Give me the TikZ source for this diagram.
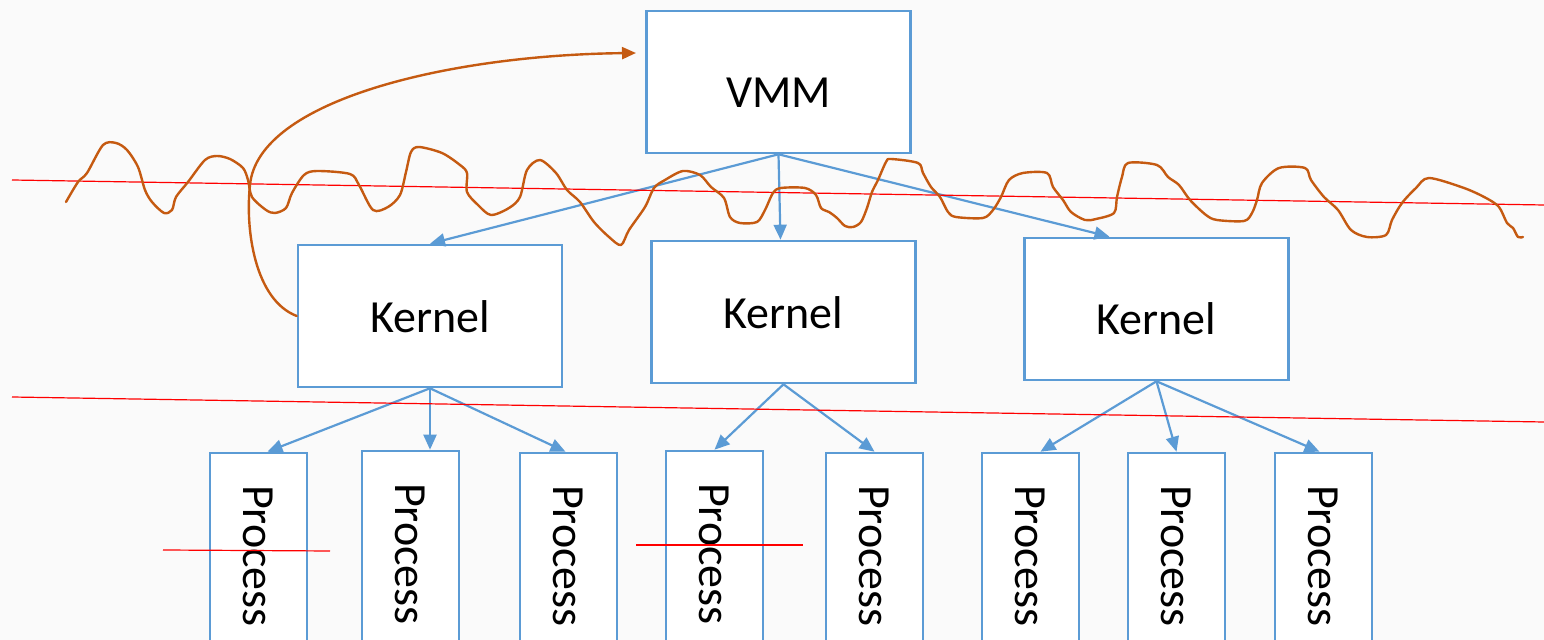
\documentclass[tikz,border=0pt]{standalone}
\usepackage{fontspec}
\setmainfont{Carlito}
\usetikzlibrary{arrows.meta}
\definecolor{boxblue}{HTML}{5B9BD5}
\definecolor{penorange}{HTML}{C55A11}
\definecolor{paper}{HTML}{FAFAFA}
\tikzset{%
	kbox/.style = { draw=boxblue, fill=white, line width=1.3pt, minimum width=132pt, minimum height=71pt, inner sep=0pt, text height=17pt, font=\fontsize{23}{28}\selectfont },
	pbox/.style = { kbox, text height=15pt, rotate=-90, minimum width=103pt, minimum height=48.5pt },
	link/.style = { boxblue, line width=1.1pt, -{Triangle[length=7.5pt,width=6.5pt]} },
	cut/.style = { red, line width=0.6pt },
	pen/.style = { penorange, line width=1.2pt, line join=round, line cap=round }
}

\begin{document}
\begin{tikzpicture}[x=0.5pt, y=-0.5pt]
	% page
	\clip (0,0) rectangle (1544,640);
	\fill[paper] (0,0) rectangle (1544,640);
	% VMM and kernels
	\node[kbox, text height=26pt] (vmm) at (778.5,82) {VMM};
	\node[kbox] (k1) at (430,316) {Kernel};
	\node[kbox] (k2) at (783.5,312) {Kernel};
	\node[kbox, text height=26pt] (k3) at (1156.5,309) {Kernel};
	% processes (rotated, so west is the top side)
	\node[pbox] (p1) at (258.5,556) {Process};
	\node[pbox] (p2) at (410.5,554) {Process};
	\node[pbox] (p3) at (568.5,556) {Process};
	\node[pbox] (p4) at (714.5,554) {Process};
	\node[pbox] (p5) at (874.5,556) {Process};
	\node[pbox] (p6) at (1030.5,556) {Process};
	\node[pbox] (p7) at (1176.5,556) {Process};
	\node[pbox] (p8) at (1323.5,556) {Process};
	% VMM -> kernels
	\draw[link] (vmm.south) -- (k1.north);
	\draw[link] (vmm.south) -- ([xshift=-1.5pt]k2.north);
	\draw[link] (vmm.south) -- ([xshift=-23.5pt]k3.north);
	% kernels -> processes
	\draw[link] (k1.south) -- ([xshift=4.5pt]p1.west);
	\draw[link] (k1.south) -- (k1.south |- p2.west);
	\draw[link] (k1.south) -- ([xshift=-1.5pt]p3.west);
	\draw[link] (k2.south) -- (p4.west);
	\draw[link] (k2.south) -- (p5.west);
	\draw[link] (k3.south) -- ([xshift=5pt]p6.west);
	\draw[link] (k3.south) -- (p7.west);
	\draw[link] (k3.south) -- ([xshift=-2pt]p8.west);
	% red cuts
	\draw[cut] (12,180) -- (1544,205);
	\draw[cut] (12,397) -- (1544,422);
	\draw[cut] (163,550) -- (330,551);
	\draw[cut] (636,545) -- (803,545);
	% hand drawn trap
	\coordinate (hook) at (636,53);
	\draw[pen, -{Triangle[length=7pt,width=6pt]}] (k1.west) .. controls (255,300) and (245,230) .. (250,185)
		.. controls (258,100) and (450,55) .. (hook);
	\draw[pen] plot[smooth, tension=0.5] coordinates {
		(66,202) (78,182) (87,173) (103,145) (116,143) (127,150) (138,167) (145,190) (152,202)
		(164,213) (172,210) (176,197) (188,182) (205,160) (217,156) (230,159) (243,168) (248,180)
		(252,197) (266,210) (275,213) (286,208) (292,193) (304,175) (317,171) (350,174) (359,185)
		(373,210) (388,207) (400,195) (406,172) (411,152) (419,147) (442,153) (460,165) (467,173)
		(467,192) (478,205) (491,215) (509,208) (520,197) (527,170) (540,160) (556,173) (567,190)
		(580,202) (594,222) (609,237) (621,245) (629,230) (645,207) (654,188) (665,180) (683,171)
		(700,175) (711,187) (724,198) (730,217) (740,223) (757,222) (765,210) (773,193) (781,188)
		(805,188) (816,195) (821,208) (829,212) (837,218) (845,226) (853,227) (861,222) (867,208)
		(872,192) (878,180) (886,162) (891,159) (918,163) (923,173) (931,187) (940,197) (948,212)
		(956,217) (983,218) (993,210) (1001,197) (1009,180) (1023,173) (1047,173) (1053,187)
		(1063,200) (1071,212) (1085,220) (1096,219) (1114,213) (1117,197) (1122,177) (1128,163)
		(1157,165) (1168,177) (1179,185) (1190,200) (1206,215) (1217,220) (1244,221) (1252,213)
		(1257,200) (1262,183) (1279,168) (1305,168) (1311,180) (1324,197) (1338,210) (1351,230)
		(1367,237) (1386,235) (1392,220) (1402,203) (1416,188) (1429,178) (1464,188) (1486,198)
		(1499,207) (1507,223) (1513,228) (1518,237) (1523,237)};
\end{tikzpicture}
\end{document}
